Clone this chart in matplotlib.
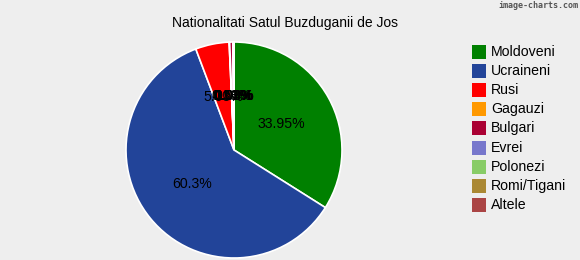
import matplotlib
matplotlib.use("Agg")
import matplotlib.pyplot as plt
from matplotlib.patches import Rectangle

categories = ["Moldoveni", "Ucraineni", "Rusi", "Gagauzi", "Bulgari", "Evrei", "Polonezi", "Romi/Tigani", "Altele"]
values = [33.95, 60.3, 5.03, 0.08, 0.51, 0.03, 0.03, 0.03, 0.04]
colors = ["#008000", "#224499", "#FF0000", "#FF9900", "#AA0033", "#7777CC", "#88CC66", "#AA8833", "#AA4444"]
title = "Nationalitati Satul Buzduganii de Jos"

W, H = 580, 260
bg = "#EEEEEE"
plt.rcParams['font.family'] = ['Liberation Sans', 'DejaVu Sans']
fig = plt.figure(figsize=(W / 100, H / 100), dpi=100, facecolor=bg)

cx, cy, r = 234, 150, 108
ax = fig.add_axes([(cx - r) / W, (H - cy - r) / H, 2 * r / W, 2 * r / H])
ax.set_facecolor(bg)

def fmt(p):
    return f"{p:g}%"

wedges, texts = ax.pie(values, colors=colors, startangle=90, counterclock=False,
                       labels=[fmt(v) for v in values], labeldistance=0.5,
                       wedgeprops=dict(edgecolor="white", linewidth=1.2),
                       textprops=dict(fontsize=10.2, color="black", ha="center", va="center"))
ax.set_xlim(-1, 1)
ax.set_ylim(-1, 1)
ax.set_aspect("auto")
ax.axis("off")

fig.text(285 / W, 1 - 22.5 / H, title, ha="center", va="center", fontsize=10, color="#000000")
fig.text(578 / W, 1 - 5 / H, "image-charts.com", ha="right", va="center", fontsize=6,
         color="#555555", family=["DejaVu Sans Mono"], fontweight="bold")

# Legend
x0, y0, step, sz = 472, 45, 19.1, 14
for i, (c, lab) in enumerate(zip(colors, categories)):
    y = y0 + i * step
    fig.patches.append(Rectangle((x0 / W, 1 - (y + sz) / H), sz / W, sz / H,
                                 transform=fig.transFigure, facecolor=c, edgecolor="none"))
    fig.text(491 / W, 1 - (y + sz / 2) / H, lab, ha="left", va="center", fontsize=10.2, color="#000000")

fig.savefig("out.png", dpi=100, facecolor=bg)
